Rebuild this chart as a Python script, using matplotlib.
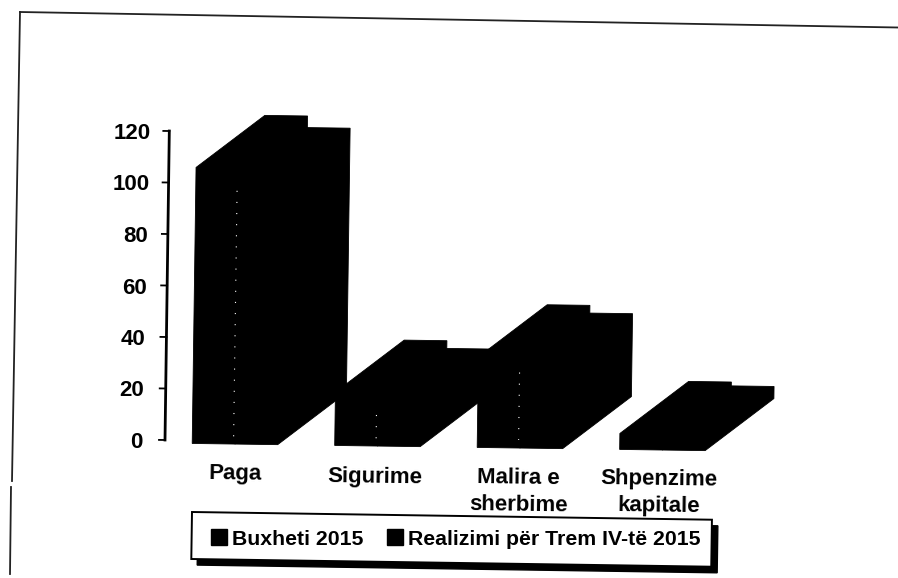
import matplotlib
matplotlib.use("Agg")
import matplotlib.pyplot as plt
from matplotlib.lines import Line2D
from matplotlib.patches import Patch, Polygon
from matplotlib.transforms import Affine2D

categories = ["Paga", "Sigurime", "Malira e\nsherbime", "Shpenzime\nkapitale"]
buxheti = [106, 19.5, 34, 5]
realizimi = [101.5, 16.5, 31, 3.5]
series_names = ["Buxheti 2015", "Realizimi për Trem IV-të 2015"]
y_ticks = [0, 20, 40, 60, 80, 100, 120]

W, H = 898, 578
plt.rcParams["font.family"] = ["Liberation Sans", "DejaVu Sans"]
fig = plt.figure(figsize=(W / 100, H / 100), dpi=100, facecolor="white")

# axes box in pixels (left, right, y of value 0, y of value 120)
L, R, Y0, Y120 = 166, 760, 440, 131
ax = fig.add_axes([L / W, 1 - Y0 / H, (R - L) / W, (Y0 - Y120) / H])
ax.set_ylim(0, 120)
unit = 142.5
x_left = -(235 - L) / unit
ax.set_xlim(x_left, x_left + (R - L) / unit)
ax.patch.set_alpha(0)
for s in ax.spines.values():
    s.set_visible(False)

# scan skew: whole plot is turned slightly clockwise
rot = Affine2D().rotate_deg_around(L, H - Y0, -0.8)
tr = ax.transData + rot

half = 0.3
floor = -1.2
dep_x = 68 / unit
dep_y = 53 * 120 / (Y0 - Y120)


def bar3d(x0, x1, v):
    pts = [(x0, floor), (x1, floor), (x1 + dep_x, floor + dep_y),
           (x1 + dep_x, v + dep_y), (x0 + dep_x, v + dep_y), (x0, v)]
    ax.add_patch(Polygon(pts, closed=True, fc="black", ec="black", lw=0.6,
                         transform=tr, clip_on=False, zorder=3))


for i in reversed(range(len(categories))):
    bar3d(i - half, i, buxheti[i])
    bar3d(i, i + half, realizimi[i])
    # speckled seam between the two bars
    ax.add_line(Line2D([i - 0.01, i - 0.01], [floor + 3, realizimi[i] - 2],
                       color="white", lw=0.8, ls=(0, (1, 9)),
                       transform=tr, zorder=4))

# value axis, tilted with the scan
axis_x = x_left - 1 / unit
ax.add_line(Line2D([axis_x, axis_x], [0, 120], color="black", lw=2,
                   transform=tr, clip_on=False, zorder=2))
for v in y_ticks:
    ax.add_line(Line2D([axis_x - 6 / unit, axis_x], [v, v],
                       color="black", lw=1.3, transform=tr, clip_on=False))

ax.set_yticks(y_ticks)
ax.set_yticklabels([str(v) for v in y_ticks], fontsize=16, fontweight="bold", color="black")
ax.tick_params(axis="y", length=0)
for v, t in zip(y_ticks, ax.yaxis.get_major_ticks()):
    t.set_pad(17 - v * 6 / 120)

label_x = [0, 0.986, 1.993, 2.975]
label_pad = [17, 19, 20, 21]
ax.set_xticks(label_x)
ax.set_xticklabels(categories, fontsize=16, fontweight="bold", linespacing=1.35,
                   rotation=-0.8, rotation_mode="anchor")
ax.tick_params(axis="x", length=0)
for p, t in zip(label_pad, ax.xaxis.get_major_ticks()):
    t.set_pad(p)

# legend box with its shadow, tilted like the page
page = Affine2D().scale(1, -1).translate(0, H).rotate_deg_around(192, H - 512, -0.85)
bx, by, bw, bh = 192, 512, 520, 47
box = [(bx, by), (bx + bw, by), (bx + bw, by + bh), (bx, by + bh)]
fig.add_artist(Polygon([(x + 6, y + 6) for x, y in box], closed=True, fc="black", ec="black",
                       transform=page, zorder=1))
fig.add_artist(Polygon(box, closed=True, fc="white", ec="black", lw=1.4,
                       transform=page, zorder=2))
handles = [Patch(fc="black", ec="black"), Patch(fc="black", ec="black")]
leg = fig.legend(handles, series_names, ncol=2, loc="center",
                 bbox_to_anchor=(456 / W, 1 - 539 / H), frameon=False,
                 handlelength=0.75, handleheight=0.75, handletextpad=0.25,
                 columnspacing=1.1, prop={"weight": "bold", "size": 15.3})
leg.set_zorder(5)

# scanned page border
border = Affine2D().scale(1, -1).translate(0, H)
for xs, ys in [([20, 898], [12, 27.5]), ([20, 12], [12, 481]), ([11, 10], [487, 574])]:
    fig.add_artist(Line2D(xs, ys, color="#222222", lw=1.3, transform=border))
fig.savefig("out.png", dpi=100)
